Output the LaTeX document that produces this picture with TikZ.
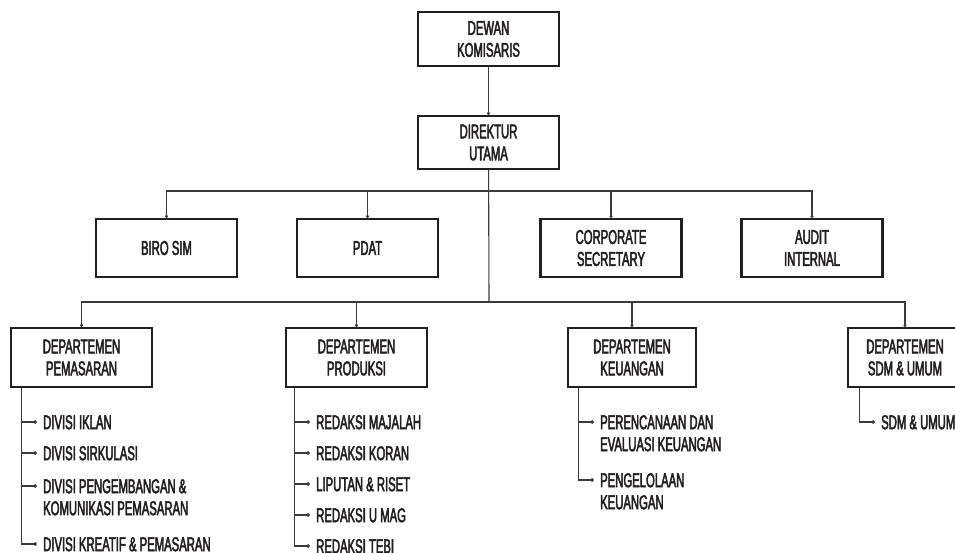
\documentclass[tikz,border=0pt]{standalone}
\usepackage{fontspec}
\setmainfont{Liberation Sans}[FakeStretch=0.565,FakeBold=2.4]
\usetikzlibrary{arrows.meta}

\definecolor{inkc}{HTML}{231F20}
\definecolor{linec}{HTML}{3A3A3A}

\tikzset{
  unit/.style={draw=inkc, line width=2.4pt, minimum width=141pt, inner sep=0pt, align=center,
    text=inkc, font=\fontsize{20}{22}\selectfont},
  item/.style={anchor=west, align=left, inner xsep=6pt, inner ysep=0pt,
    text height=14.3pt, text depth=0pt, text=inkc, font=\fontsize{20}{22}\selectfont},
  itemtwo/.style={anchor=north west, align=left, inner xsep=6pt, inner ysep=0pt,
    text=inkc, font=\fontsize{20}{22}\selectfont},
  conn/.style={draw=linec, line width=1.1pt, -{Circle[length=3pt]}},
  branch/.style={draw=linec, line width=1.1pt, -{Circle[length=3.6pt]}},
  trunk/.style={draw=linec, line width=1.1pt}
}

\begin{document}
\begin{tikzpicture}[x=1pt,y=1pt,yscale=-1,xscale=1]
\path[use as bounding box] (0,0) rectangle (955,552);
\clip (0,0) rectangle (955,552);

%Board and director
\node[unit, minimum height=54pt] (dk) at (488.5,39) {DEWAN\\KOMISARIS};
\node[unit, minimum height=53pt] (du) at (488.5,142.5) {DIREKTUR\\UTAMA};
\draw[conn] (dk) -- (du);

%Staff units
\coordinate (busa) at (489,191);
\node[unit, minimum height=58pt] (biro) at (166.5,248) {BIRO SIM};
\node[unit, minimum height=58pt] (pdat) at (367.5,248) {PDAT};
\node[unit, minimum height=58pt] (corp) at (611,248) {CORPORATE\\SECRETARY};
\node[unit, minimum height=58pt] (audit) at (812,248) {AUDIT\\INTERNAL};
\draw[conn] (busa) -| (biro);
\draw[conn] (busa) -| (pdat);
\draw[conn] (busa) -| (corp);
\draw[conn] (busa) -| (audit);

%Departments
\coordinate (busb) at (489,302);
\draw[trunk] (du) -- (busb);
\node[unit, minimum height=59pt] (pem) at (81.5,357.5) {DEPARTEMEN\\PEMASARAN};
\node[unit, minimum height=59pt] (prod) at (356.5,357.5) {DEPARTEMEN\\PRODUKSI};
\node[unit, minimum height=59pt, minimum width=128pt] (keu) at (632,357.5) {DEPARTEMEN\\KEUANGAN};
\node[unit, minimum height=59pt, minimum width=114pt] (sdm) at (905,357.5) {DEPARTEMEN\\SDM \& UMUM};
\draw[conn] (busb) -| (pem);
\draw[conn] (busb) -| (prod);
\draw[conn] (busb) -| (keu);
\draw[conn] (busb) -| (sdm);

%Pemasaran
\node[item] (iklan) at (37,422) {DIVISI IKLAN};
\node[item] (sirk) at (37,453) {DIVISI SIRKULASI};
\node[itemtwo] (kom) at (37,479) {DIVISI PENGEMBANGAN \&\\KOMUNIKASI PEMASARAN};
\coordinate (komtip) at (37,486);
\node[item] (kreatif) at (37,544) {DIVISI KREATIF \& PEMASARAN};
\foreach \n in {iklan.west,sirk.west,komtip,kreatif.west}
  \draw[branch] ([xshift=12pt]pem.south west) |- (\n);

%Produksi
\node[item] (majalah) at (310,422) {REDAKSI MAJALAH};
\node[item] (koran) at (310,453) {REDAKSI KORAN};
\node[item] (riset) at (310,484) {LIPUTAN \& RISET};
\node[item] (umag) at (310,515) {REDAKSI U MAG};
\node[item] (tebi) at (310,546) {REDAKSI TEBI};
\foreach \n in {majalah,koran,riset,umag,tebi}
  \draw[branch] ([xshift=10pt]prod.south west) |- (\n.west);

%Keuangan
\node[itemtwo] (renc) at (594,415) {PERENCANAAN DAN\\EVALUASI KEUANGAN};
\coordinate (renctip) at (594,422);
\node[itemtwo] (kelola) at (594,473) {PENGELOLAAN\\KEUANGAN};
\coordinate (kelolatip) at (594,480);
\foreach \n in {renctip,kelolatip}
  \draw[branch] ([xshift=12pt]keu.south west) |- (\n);

%SDM
\node[item] (umum) at (875,422) {SDM \& UMUM};
\draw[branch] ([xshift=13pt]sdm.south west) |- (umum.west);

\end{tikzpicture}
\end{document}
